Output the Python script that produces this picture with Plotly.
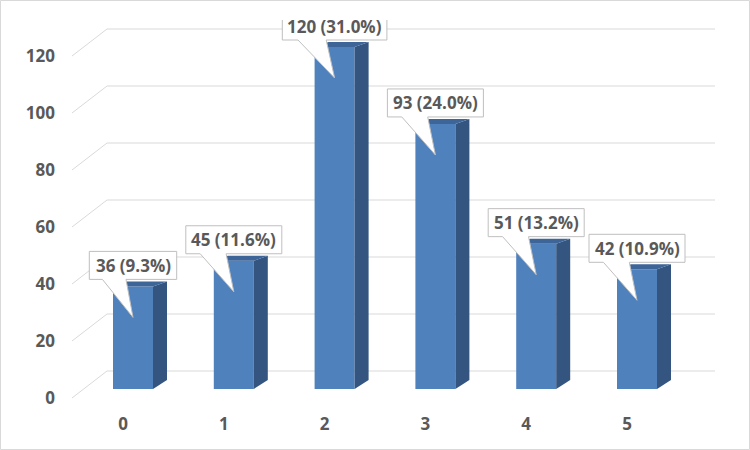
import plotly.graph_objects as go

categories = [0, 1, 2, 3, 4, 5]
counts = [36, 45, 120, 93, 51, 42]
percents = [9.3, 11.6, 31.0, 24.0, 13.2, 10.9]
y_ticks = [0, 20, 40, 60, 80, 100, 120]

# ---- layout geometry (pixels) ----
W, H = 750, 450
L, R, T, B = 72, 35, 20, 50
plot_w = W - L - R
plot_h = H - T - B
px_x = 100.8          # pixels per category
px_y = 2.85           # pixels per unit
x0 = -61 / px_x       # category 0 centre sits 61 px from plot left
x1 = x0 + plot_w / px_x
y_bot_px = 389        # value 0 row of bar fronts
y0 = (y_bot_px - (H - B)) / px_y
y1 = y0 + plot_h / px_y

def dx(p):
    return p / px_x

def dy(p):
    return p / px_y

front = "#4f81bd"
side = "#34557f"
topc = "#3d6598"
grid = "#d9d9d9"
txt = "#595959"
font_fam = "Open Sans"
fsize = 17

bar_w = dx(40)
depth_x = dx(14)
depth_top = dy(5)
depth_bot = dy(9)

fig = go.Figure()
fig.add_trace(go.Bar(
    x=categories, y=counts, width=bar_w,
    marker=dict(color=front, line=dict(width=0)),
    hoverinfo="skip", showlegend=False,
))

shapes = []
# gridlines: slanted front-to-back segment plus back-wall horizontal
gx_front = x0
gx_back = x0 + dx(35)
for v in y_ticks:
    yf = v - dy(9)
    yb = v + dy(18)
    shapes.append(dict(type="line", xref="x", yref="y", x0=gx_front, y0=yf,
                       x1=gx_back, y1=yb, line=dict(color=grid, width=1), layer="below"))
    shapes.append(dict(type="line", xref="x", yref="y", x0=gx_back, y0=yb,
                       x1=x1, y1=yb, line=dict(color=grid, width=1), layer="below"))

# 3D side and top faces of bars
for c, v in zip(categories, counts):
    xl = c - bar_w / 2
    xr = c + bar_w / 2
    side_path = (f"M {xr},0 L {xr + depth_x},{depth_bot} L {xr + depth_x},{v + depth_top} "
                 f"L {xr},{v} Z")
    shapes.append(dict(type="path", xref="x", yref="y", path=side_path,
                       fillcolor=side, line=dict(width=0), layer="above"))
    top_path = (f"M {xl},{v} L {xl + depth_x},{v + depth_top} L {xr + depth_x},{v + depth_top} "
                f"L {xr},{v} Z")
    shapes.append(dict(type="path", xref="x", yref="y", path=top_path,
                       fillcolor=topc, line=dict(width=0), layer="above"))

# callouts
annotations = []
for c, v, p in zip(categories, counts, percents):
    label = f"{v} ({p:.1f}%)"
    wpx = 8.6 * len(label) + 10
    bl = c - dx(wpx / 2)
    br = c + dx(wpx / 2)
    bb = v + dy(7)
    bt = v + dy(35)
    w1 = bl + dx(0.15 * wpx)
    w2 = bl + dx(0.42 * wpx)
    tip_y = v - dy(31)
    path = (f"M {bl},{bb} L {w1},{bb} L {c},{tip_y} L {w2},{bb} L {br},{bb} "
            f"L {br},{bt} L {bl},{bt} Z")
    shapes.append(dict(type="path", xref="x", yref="y", path=path,
                       fillcolor="white", line=dict(color="#bfbfbf", width=1), layer="above"))
    annotations.append(dict(x=c, y=v + dy(21), xref="x", yref="y", text=f"<b>{label}</b>",
                            showarrow=False, xanchor="center", yanchor="middle",
                            font=dict(family=font_fam, size=fsize, color=txt)))

# outer chart border
shapes.append(dict(type="rect", xref="paper", yref="paper",
                   x0=(0.5 - L) / plot_w, x1=(W - 0.5 - L) / plot_w,
                   y0=(H - B - (H - 0.5)) / plot_h, y1=(H - B - 0.5) / plot_h,
                   line=dict(color="#d9d9d9", width=1), fillcolor="rgba(0,0,0,0)", layer="below"))

fig.update_layout(
    width=W, height=H,
    margin=dict(l=L, r=R, t=T, b=B),
    paper_bgcolor="white", plot_bgcolor="white",
    shapes=shapes, annotations=annotations,
    showlegend=False,
    xaxis=dict(range=[x0, x1], tickmode="array", tickvals=categories,
               ticktext=[f"<b>{c}</b>" for c in categories],
               showgrid=False, zeroline=False, showline=False, ticks="",
               ticklabelshift=-10, ticklabelstandoff=12,
               tickfont=dict(family=font_fam, size=fsize, color=txt)),
    yaxis=dict(range=[y0, y1], tickmode="array", tickvals=y_ticks,
               ticktext=[f"<b>{t}</b>" for t in y_ticks],
               showgrid=False, zeroline=False, showline=False, ticks="",
               ticklabelshift=9, ticklabelstandoff=16,
               tickfont=dict(family=font_fam, size=fsize, color=txt)),
)

fig.write_html("out.html")
